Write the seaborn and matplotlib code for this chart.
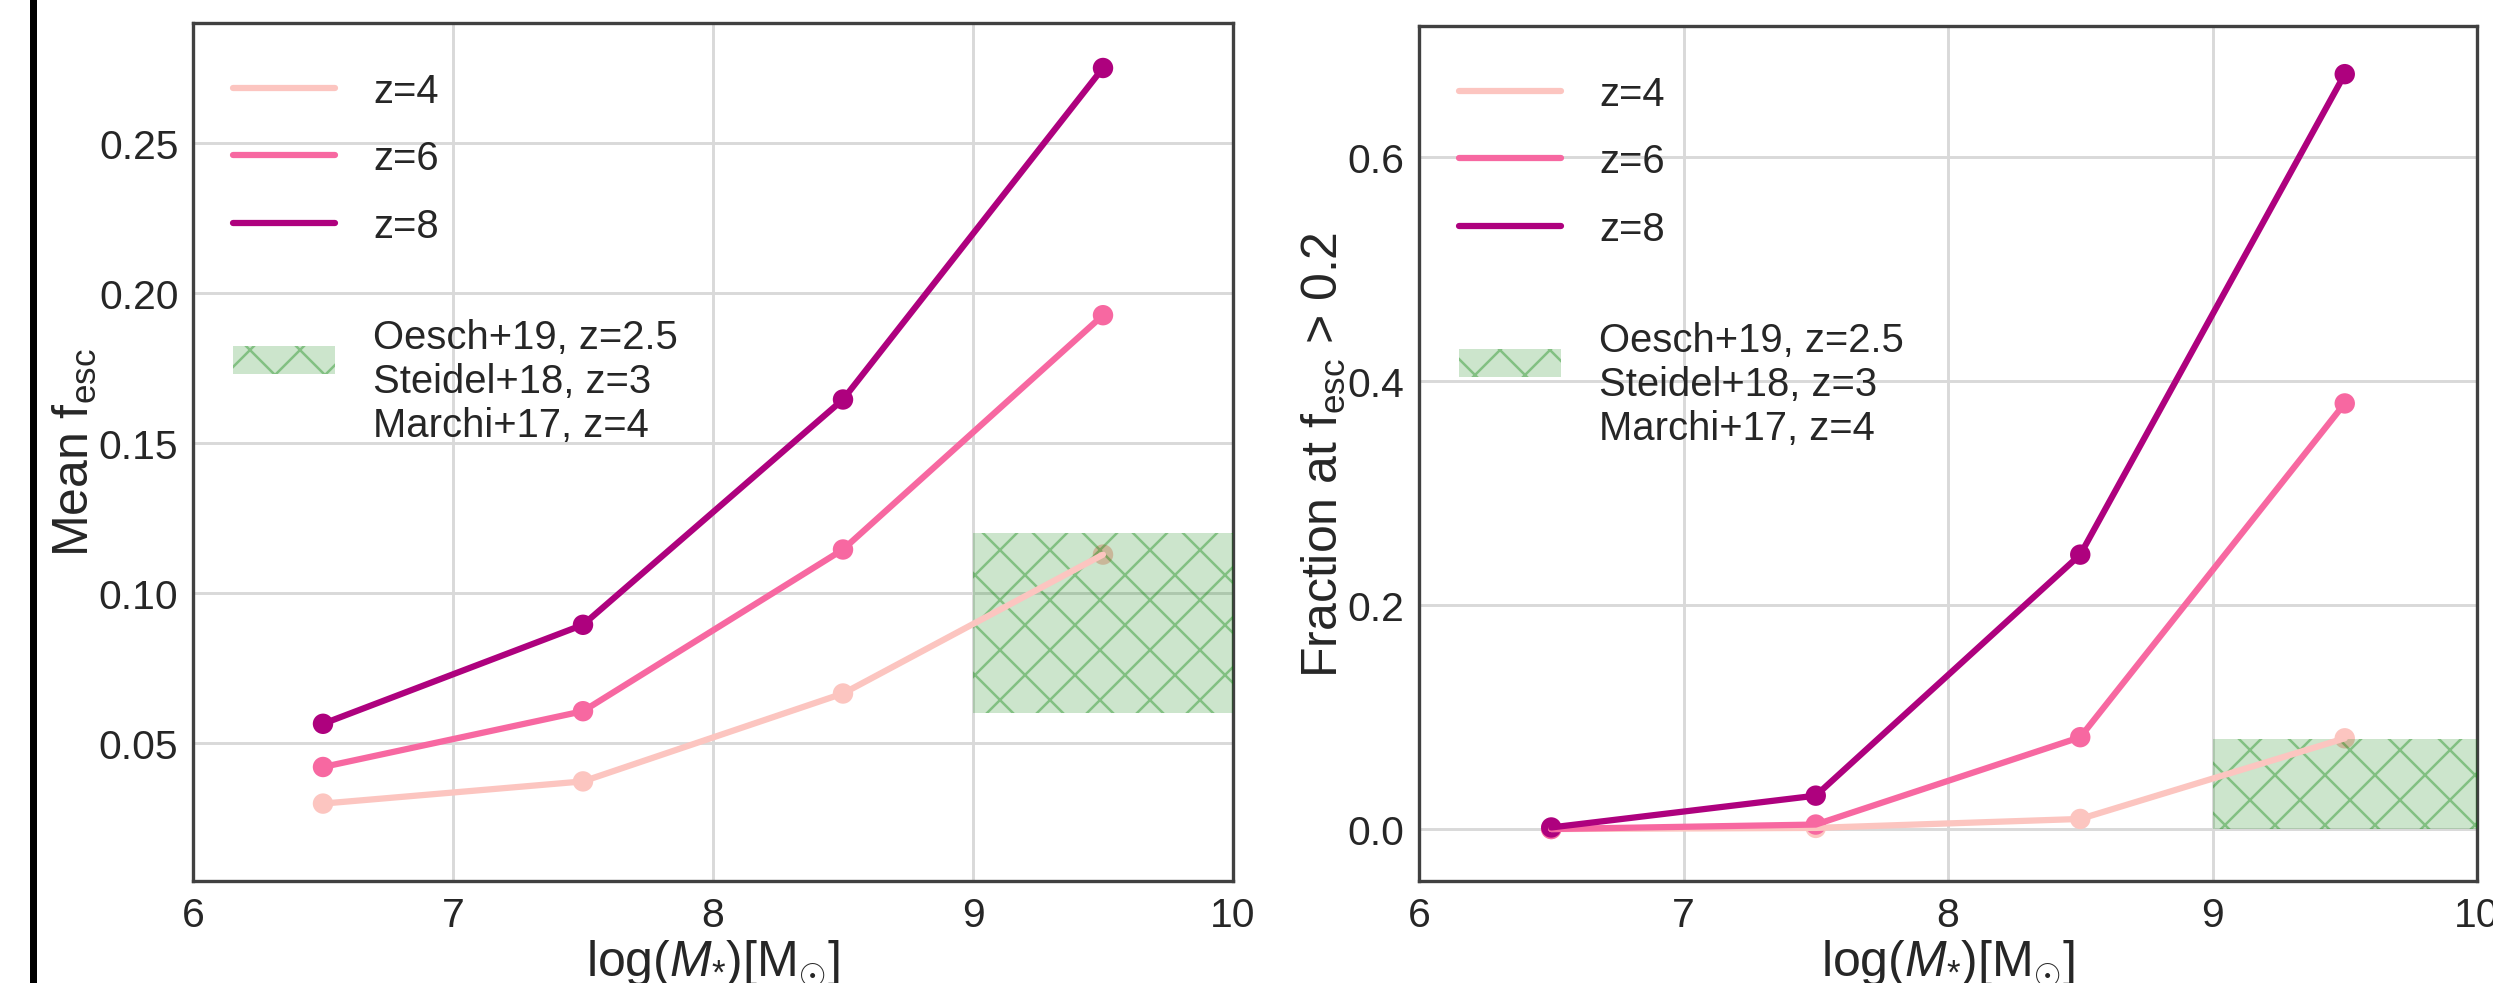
import numpy as np
import pandas as pd
import matplotlib
matplotlib.use("Agg")
import matplotlib.pyplot as plt
import seaborn as sns
from matplotlib.patches import Rectangle

# ---------------- data ----------------
log_mass = [6.5, 7.5, 8.5, 9.5]
redshifts = ["z=4", "z=6", "z=8"]
colors = ["#fcc5c0", "#f768a1", "#ae017e"]

mean_fesc_z4 = [0.0298, 0.0372, 0.0665, 0.1128]
mean_fesc_z6 = [0.0420, 0.0606, 0.1145, 0.1926]
mean_fesc_z8 = [0.0564, 0.0894, 0.1645, 0.2750]

frac_z4 = [0.000, 0.001, 0.009, 0.081]
frac_z6 = [0.000, 0.004, 0.082, 0.380]
frac_z8 = [0.0014, 0.0298, 0.245, 0.674]

obs_label = "\nOesch+19, z=2.5\nSteidel+18, z=3\nMarchi+17, z=4"
obs_x = [9.0, 10.0]
obs_mean_range = [0.06, 0.12]
obs_frac_range = [0.0, 0.08]

left_yticks = [0.05, 0.10, 0.15, 0.20, 0.25]
right_yticks = [0.0, 0.2, 0.4, 0.6]
xticks = [6, 7, 8, 9, 10]

# ---------------- style ----------------
sns.set_theme(style="whitegrid")
plt.rcParams["font.family"] = ["Liberation Sans", "DejaVu Sans"]
plt.rcParams["mathtext.fontset"] = "custom"
plt.rcParams["mathtext.rm"] = "Liberation Sans"
plt.rcParams["mathtext.it"] = "Liberation Sans:italic"
plt.rcParams["mathtext.bf"] = "Liberation Sans:bold"
plt.rcParams["axes.edgecolor"] = "0.25"
plt.rcParams["axes.linewidth"] = 0.8
plt.rcParams["grid.color"] = "0.85"
plt.rcParams["grid.linewidth"] = 0.7
plt.rcParams["hatch.linewidth"] = 0.6
plt.rcParams["text.color"] = "0.15"
plt.rcParams["xtick.color"] = "0.15"
plt.rcParams["ytick.color"] = "0.15"

W, H, DPI = 2493, 984, 300
fig = plt.figure(figsize=(W / DPI, H / DPI), dpi=DPI)

# black bar at the left edge of the picture
fig.add_artist(Rectangle((30 / W, 0), 7 / W, 1, transform=fig.transFigure,
                         facecolor="black", edgecolor="none"))

ax1 = fig.add_axes([193 / W, 102 / H, 1040 / W, 858 / H])
ax2 = fig.add_axes([1419 / W, 102 / H, 1058 / W, 855 / H])

box_face = (0.0, 0.5, 0.0, 0.2)
box_hatch = (0.0, 0.5, 0.0, 0.36)


def draw(ax, series, obs_range, ylabel, ylim, yticks):
    for name, vals, c in zip(redshifts, series, colors):
        df = pd.DataFrame({"x": log_mass, "y": vals})
        sns.lineplot(data=df, x="x", y="y", ax=ax, color=c, lw=1.5,
                     label=name, zorder=4)
        sns.scatterplot(data=df, x="x", y="y", ax=ax, color=c, s=24,
                        edgecolor="none", legend=False, zorder=2.5)
    ax.fill_between(obs_x, [obs_range[0]] * 2, [obs_range[1]] * 2,
                    facecolor=box_face, edgecolor=box_hatch, hatch="xx",
                    linewidth=0, zorder=3, label=obs_label)
    ax.set_xlim(6, 10)
    ax.set_xticks(xticks)
    ax.set_ylim(*ylim)
    ax.set_yticks(yticks)
    ax.tick_params(labelsize=9.8, pad=3.5, length=0)
    ax.set_xlabel(r"log($M_{*}$)[M$_{\odot}$]", fontsize=12, labelpad=1)
    ax.set_ylabel(ylabel, fontsize=12, labelpad=0)
    for s in ax.spines.values():
        s.set_visible(True)
        s.set_color("0.25")
        s.set_linewidth(0.8)
    ax.legend(loc="upper left", bbox_to_anchor=(0.0, 0.99), frameon=False,
              fontsize=9.6, handlelength=2.55, handletextpad=0.95,
              labelspacing=0.74, borderaxespad=0.6)


draw(ax1, [mean_fesc_z4, mean_fesc_z6, mean_fesc_z8], obs_mean_range,
     r"Mean f$_{\rm esc}$", (0.004, 0.29), left_yticks)
ax1.set_yticklabels([f"{v:.2f}" for v in left_yticks])

draw(ax2, [frac_z4, frac_z6, frac_z8], obs_frac_range,
     r"Fraction at f$_{\rm esc}$ > 0.2", (-0.0464, 0.717), right_yticks)
ax2.set_yticklabels([f"{v:.1f}" for v in right_yticks])

fig.savefig("out.png", dpi=DPI)
